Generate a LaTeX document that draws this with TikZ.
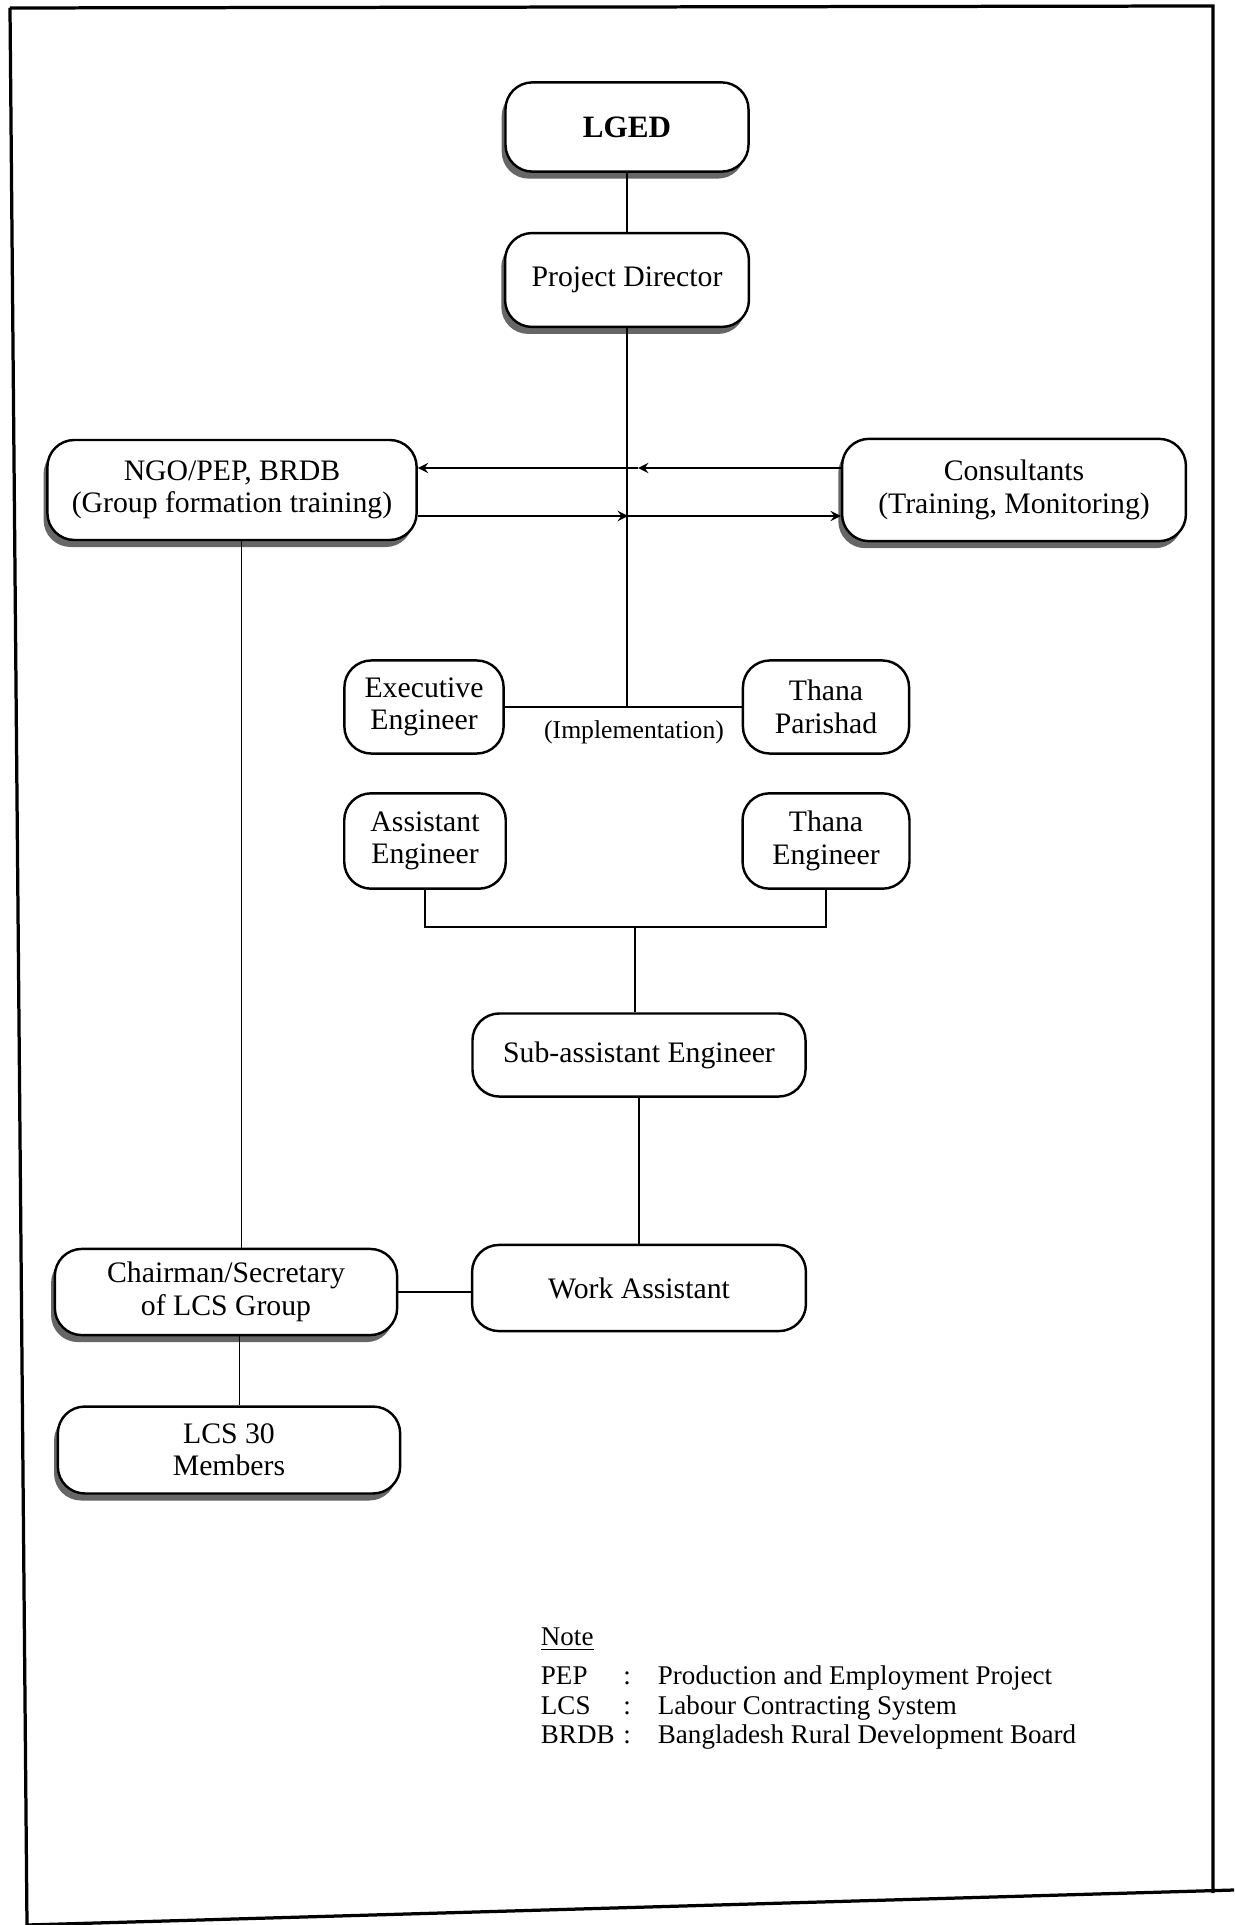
\documentclass[tikz,border=0pt]{standalone}
\usepackage{fontspec}
\setmainfont{Liberation Serif}
\usetikzlibrary{shadows}
\begin{document}
\begin{tikzpicture}[x=0.013cm,y=-0.013cm,line width=0.7pt]
			\tikzset{s/.style={draw,line width=0.9pt,rounded corners=3.5mm,align=center,fill=white,inner sep=2pt,font=\fontsize{11}{12}\selectfont},
				sb/.style={s,drop shadow={shadow xshift=-1.4pt,shadow yshift=-2.6pt,fill=black!60,opacity=1}},
				nt/.style={font=\fontsize{10}{12}\selectfont,inner sep=0pt}}
			\useasboundingbox(0,0)rectangle(1234,1925);
			%%Khung trang
			\draw[line width=1.2pt](10,8)--(1213,6)--(1213,1893)(10,8)--(27,1925)--(1234,1890);
			%%Cac o
			\path(627,127)node[sb,minimum width=3.16cm,minimum height=1.16cm,font=\fontsize{11.5}{12}\selectfont\bfseries](LGED){LGED}
			(627,280)node[sb,minimum width=3.17cm,minimum height=1.22cm](PD){Project Director};
			\path(232,490)node[sb,minimum width=4.8cm,minimum height=1.3cm](NGO){NGO/PEP, BRDB\\(Group formation training)}
			(1014,490)node[sb,minimum width=4.47cm,minimum height=1.33cm](CON){Consultants\\(Training, Monitoring)};
			\path(424,707)node[s,minimum width=2.07cm,minimum height=1.21cm](EE){Executive\\Engineer}
			(826,707)node[s,minimum width=2.16cm,minimum height=1.21cm](TP){Thana\\Parishad}
			(425,841)node[s,minimum width=2.1cm,minimum height=1.24cm](AE){Assistant\\Engineer}
			(826,841)node[s,minimum width=2.17cm,minimum height=1.24cm](TE){Thana\\Engineer};
			\path(639,1055)node[s,minimum width=4.33cm,minimum height=1.08cm](SAE){Sub-assistant Engineer}
			(639,1288)node[s,minimum width=4.34cm,minimum height=1.12cm](WA){Work Assistant};
			\path(226,1292)node[sb,minimum width=4.45cm,minimum height=1.12cm](CS){Chairman/Secretary\\of LCS Group}
			(229,1450)node[sb,minimum width=4.45cm,minimum height=1.13cm](LCS){LCS 30\\Members};
			\path(634,732)node[font=\fontsize{9.5}{10}\selectfont](IMP){(Implementation)};
			%%Duong noi
			\coordinate(t)at(638,468);
			\coordinate(d)at(628,516);
			\coordinate(sj)at(635,927);
			\foreach \x/\y in {
				LGED/PD,
				SAE/WA}
			\draw(\x.south)--(\y.north);
			\draw(PD.south)--(PD.south|-EE.east);
			\draw(EE.east)--(TP.west);
			\draw(AE.south)|-(sj)-|(TE.south);
			\draw(sj)--(sj|-SAE.north);
			\draw([xshift=3.5pt]NGO.south)--([xshift=3.5pt]NGO.south|-CS.north);
			\draw([xshift=5pt]CS.south)--([xshift=5pt]CS.south|-LCS.north);
			\draw(CS.east)--(CS.east-|WA.west);
			\foreach \x/\y in {
				t-|CON.west/t,t/t-|NGO.east,
				d-|NGO.east/d,d/d-|CON.west}
			\draw[-stealth](\x)--(\y);
			%%Ghi chu
			\path(540,1645)node[nt,anchor=base west](N){\underline{Note}};
			\foreach \a/\b/\yy/\i in {
				PEP/Production and Employment Project/1684/1,
				LCS/Labour Contracting System/1714/2,
				BRDB/Bangladesh Rural Development Board/1743/3}
			\path(540,\yy)node[nt,anchor=base west](k\i){\a}(627,\yy)node[nt,anchor=base](c\i){:}(657,\yy)node[nt,anchor=base west](m\i){\b};
		\end{tikzpicture}
\end{document}
